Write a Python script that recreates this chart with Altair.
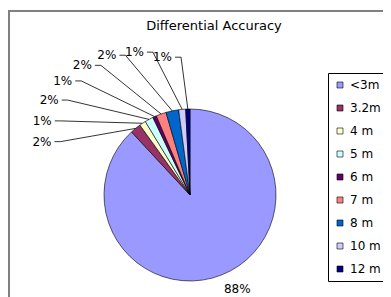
import altair as alt
import pandas as pd

categories = ["<3m", "3.2m", "4 m", "5 m", "6 m", "7 m", "8 m", "10 m", "12 m"]
values = [88.1, 2.0, 1.2, 1.6, 0.7, 1.9, 2.4, 1.3, 0.8]
colors = ["#9999FF", "#993366", "#FFFFCC", "#CCFFFF", "#660066",
          "#FF8080", "#0066CC", "#CCCCFF", "#000080"]
title_text = ["Differential Accuracy"]

df = pd.DataFrame({"cat": categories, "value": values, "idx": list(range(len(values)))})

FONT = "DejaVu Sans"
CX, CY, R = 182, 187, 86
W, H = 375, 289

base = alt.Chart(df)

pie = base.mark_arc(radius=R, x=CX, y=CY, stroke="black", strokeWidth=0.6).encode(
    theta=alt.Theta("value:Q", stack=True),
    order=alt.Order("idx:Q"),
    color=alt.Color(
        "cat:N",
        scale=alt.Scale(domain=categories, range=colors),
        legend=alt.Legend(
            orient="none", legendX=320, legendY=65, title=None,
            strokeColor="black", fillColor="white", padding=6,
            symbolType="square", symbolSize=36, symbolStrokeColor="black",
            symbolStrokeWidth=0.6, labelFont=FONT, labelFontSize=12,
            labelColor="black", rowPadding=11, labelOffset=4,
        ),
    ),
)

calc = base.transform_window(
    cum="sum(value)", sort=[alt.SortField("idx")], frame=[None, 0]
).transform_joinaggregate(total="sum(value)").transform_calculate(
    mid="(datum.cum - datum.value/2) / datum.total * 2 * PI",
    lab="format(datum.value, '.0f') + '%'",
    i="datum.idx - 1",
).transform_calculate(
    ex=f"{CX} + {R} * sin(datum.mid)",
    ey=f"{CY} - {R} * cos(datum.mid)",
    la="(291.5 + 8.9 * datum.i - 0.28 * datum.i * (7 - datum.i)) * PI / 180",
    ld="160 - 1.6 * (datum.i - 3) * (datum.i - 3) + 0.6 * datum.i",
).transform_calculate(
    lx=f"{CX} + datum.ld * sin(datum.la)",
    ly=f"{CY} - datum.ld * cos(datum.la)",
).transform_calculate(
    lx2="datum.lx + 6",
)

small = calc.transform_filter("datum.idx > 0")
big = calc.transform_filter("datum.idx == 0")

xs = lambda f: alt.X(f, scale=None, axis=None)
ys = lambda f: alt.Y(f, scale=None, axis=None)

elbow = small.mark_rule(color="black", strokeWidth=0.8).encode(
    x=xs("lx:Q"), x2="lx2:Q", y=ys("ly:Q"), y2="ly:Q"
)
leader = small.mark_rule(color="black", strokeWidth=0.8).encode(
    x=xs("lx2:Q"), x2="ex:Q", y=ys("ly:Q"), y2="ey:Q"
)
small_text = small.mark_text(
    align="right", baseline="middle", dx=-3, font=FONT, fontSize=12, color="black"
).encode(x=xs("lx:Q"), y=ys("ly:Q"), text="lab:N")

big_text = big.transform_calculate(
    bx=f"{CX} + 101 * sin(datum.mid)",
    by=f"{CY} - 101 * cos(datum.mid)",
).mark_text(
    align="left", baseline="middle", dx=-3, font=FONT, fontSize=12, color="black"
).encode(x=xs("bx:Q"), y=ys("by:Q"), text="lab:N")

title = alt.Chart(pd.DataFrame({"t": title_text})).mark_text(
    font=FONT, fontSize=13, color="black", align="center", baseline="middle"
).encode(x=alt.value(206), y=alt.value(18), text="t:N")

border_top = alt.Chart(pd.DataFrame({"t": title_text})).mark_rule(
    color="#808080", strokeWidth=2
).encode(x=alt.value(0), x2=alt.value(W), y=alt.value(3))
border_left = alt.Chart(pd.DataFrame({"t": title_text})).mark_rule(
    color="#808080", strokeWidth=2
).encode(x=alt.value(1), y=alt.value(3), y2=alt.value(H))

chart = alt.layer(
    border_top, border_left, title, pie, elbow, leader, small_text, big_text
).properties(
    width=W, height=H, padding=0, autosize=alt.AutoSizeParams(type="none"),
    background="white",
).configure_view(stroke=None)

chart.save("out.html", embed_options={"renderer": "svg", "actions": False})
